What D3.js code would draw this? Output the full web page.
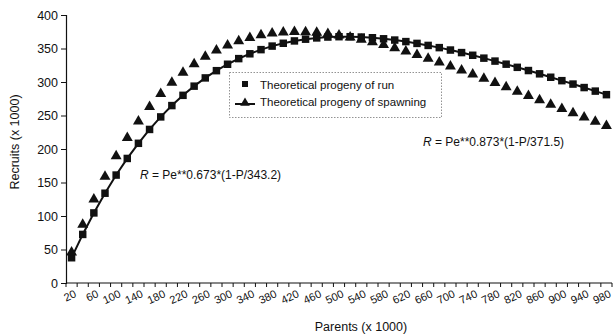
<!DOCTYPE html>
<html>
<head>
<meta charset="utf-8">
<script src="https://cdn.jsdelivr.net/npm/d3@7/dist/d3.min.js"></script>
<style>
  html, body { margin: 0; padding: 0; background: #fff; }
  svg { display: block; font-family: "Liberation Sans", Arial, sans-serif; }
</style>
</head>
<body>
<svg id="chart" width="613" height="334"></svg>
<script>
// Parent stock (x 1000), one category per 20
const parents = [20, 40, 60, 80, 100, 120, 140, 160, 180, 200, 220, 240, 260, 280, 300, 320, 340, 360, 380, 400,
  420, 440, 460, 480, 500, 520, 540, 560, 580, 600, 620, 640, 660, 680, 700, 720, 740, 760, 780, 800,
  820, 840, 860, 880, 900, 920, 940, 960, 980];

// Theoretical progeny of run (x 1000)
const runProgeny = [37.7, 72.5, 104.6, 134.0, 161.1, 185.9, 208.5, 229.2, 247.9, 264.8, 280.1, 293.8, 306.1, 316.9,
  326.5, 334.9, 342.1, 348.3, 353.6, 357.8, 361.3, 363.9, 365.8, 367.1, 367.6, 367.6, 367.1, 366.1, 364.5, 362.6,
  360.3, 357.6, 354.6, 351.3, 347.7, 343.9, 339.9, 335.6, 331.2, 326.6, 321.9, 317.1, 312.2, 307.1, 302.0, 296.9,
  291.7, 286.4, 281.1];

// Theoretical progeny of spawning (x 1000)
const spawnProgeny = [45.7, 87.2, 124.8, 158.7, 189.3, 216.7, 241.2, 263.0, 282.3, 299.3, 314.1, 326.9, 337.9, 347.2,
  354.9, 361.2, 366.1, 369.9, 372.5, 374.1, 374.8, 374.6, 373.6, 372.0, 369.7, 366.8, 363.4, 359.6, 355.3, 350.7,
  345.8, 340.5, 335.0, 329.3, 323.5, 317.4, 311.3, 305.0, 298.7, 292.3, 285.8, 279.4, 272.9, 266.4, 259.9, 253.5,
  247.1, 240.8, 234.5];

const xTickLabels = ["20", "60", "100", "140", "180", "220", "260", "300", "340", "380", "420", "460", "500",
  "540", "580", "620", "660", "700", "740", "780", "820", "860", "900", "940", "980"];
const yTicks = [0, 50, 100, 150, 200, 250, 300, 350, 400];

const seriesNames = ["Theoretical progeny of run", "Theoretical progeny of spawning"];
const runLabel = "Pe**0.673*(1-P/343.2)";
const spawnLabel = "Pe**0.873*(1-P/371.5)";

const svg = d3.select("#chart");
const ink = "#111";

const plot = { left: 66, right: 612, top: 15, bottom: 283 };

const x = d3.scaleBand().domain(parents).range([plot.left, plot.right]);
const y = d3.scaleLinear().domain([0, 400]).range([plot.bottom, plot.top]);
const cx = d => x(d) + x.bandwidth() / 2;

// Y axis
const yAxis = svg.append("g")
  .attr("transform", `translate(${plot.left},0)`)
  .call(d3.axisLeft(y).tickValues(yTicks).tickSize(5).tickPadding(3));
yAxis.select(".domain").attr("stroke", ink).attr("stroke-width", 1.2);
yAxis.selectAll(".tick line").attr("stroke", ink);
yAxis.selectAll(".tick text").attr("fill", ink).style("font-size", "12.5px")
  .style("font-family", "'Liberation Sans', Arial, sans-serif");

// X axis line with tick marks between categories
const xAxis = svg.append("g");
xAxis.append("line")
  .attr("x1", plot.left).attr("x2", plot.right)
  .attr("y1", plot.bottom).attr("y2", plot.bottom)
  .attr("stroke", ink).attr("stroke-width", 1.2);
xAxis.selectAll("line.tick")
  .data(parents.concat(["end"]))
  .join("line")
  .attr("class", "tick")
  .attr("x1", d => d === "end" ? plot.right : x(d))
  .attr("x2", d => d === "end" ? plot.right : x(d))
  .attr("y1", plot.bottom).attr("y2", plot.bottom + 4)
  .attr("stroke", ink);

// Rotated category labels, every other category
xAxis.selectAll("text.xl")
  .data(xTickLabels)
  .join("text")
  .attr("class", "xl")
  .attr("transform", d => `translate(${cx(+d) + 2},${plot.bottom + 6}) rotate(-25)`)
  .attr("text-anchor", "end")
  .attr("dy", "0.75em")
  .attr("fill", ink)
  .style("font-size", "11px")
  .text(d => d);

// Axis titles
svg.append("text")
  .attr("x", 361).attr("y", 331)
  .attr("text-anchor", "middle")
  .attr("fill", ink)
  .style("font-size", "12.5px")
  .text("Parents (x 1000)");

svg.append("text")
  .attr("transform", "translate(19,142) rotate(-90)")
  .attr("text-anchor", "middle")
  .attr("fill", ink)
  .style("font-size", "12.5px")
  .text("Recruits (x 1000)");

// Run series: connected line with square markers
const runPts = parents.map((p, i) => [cx(p), y(runProgeny[i])]);
svg.append("path")
  .attr("d", d3.line()(runPts))
  .attr("fill", "none").attr("stroke", ink).attr("stroke-width", 2);
svg.append("g").selectAll("path")
  .data(runPts)
  .join("path")
  .attr("transform", d => `translate(${d[0]},${d[1]})`)
  .attr("d", d3.symbol(d3.symbolSquare, 56)())
  .attr("fill", ink);

// Spawning series: triangle markers
const spawnPts = parents.map((p, i) => [cx(p), y(spawnProgeny[i])]);
svg.append("g").selectAll("path")
  .data(spawnPts)
  .join("path")
  .attr("transform", d => `translate(${d[0]},${d[1]})`)
  .attr("d", d3.symbol(d3.symbolTriangle, 52)())
  .attr("fill", ink);

// Legend
const legend = svg.append("g");
legend.append("rect")
  .attr("x", 229.5).attr("y", 72.5).attr("width", 212).attr("height", 45)
  .attr("fill", "#fff").attr("stroke", "#777").attr("stroke-width", 0.8)
  .attr("stroke-dasharray", "1.5,1.5");
legend.append("path")
  .attr("transform", "translate(245,84)")
  .attr("d", d3.symbol(d3.symbolSquare, 36)())
  .attr("fill", ink);
legend.append("line")
  .attr("x1", 235).attr("x2", 255).attr("y1", 104).attr("y2", 104)
  .attr("stroke", ink).attr("stroke-width", 2);
legend.append("path")
  .attr("transform", "translate(245,103)")
  .attr("d", d3.symbol(d3.symbolTriangle, 40)())
  .attr("fill", ink);
legend.selectAll("text")
  .data(seriesNames)
  .join("text")
  .attr("x", 260).attr("y", (d, i) => 89 + i * 17)
  .attr("fill", ink)
  .style("font-size", "11.5px")
  .text(d => d);

// Fitted equations
function equation(xPos, yPos, body) {
  const t = svg.append("text").attr("x", xPos).attr("y", yPos)
    .attr("fill", ink).style("font-size", "12px");
  t.append("tspan").style("font-style", "italic").text("R");
  t.append("tspan").text(" = " + body);
}
equation(140, 179, runLabel);
equation(423, 146, spawnLabel);
</script>
</body>
</html>
